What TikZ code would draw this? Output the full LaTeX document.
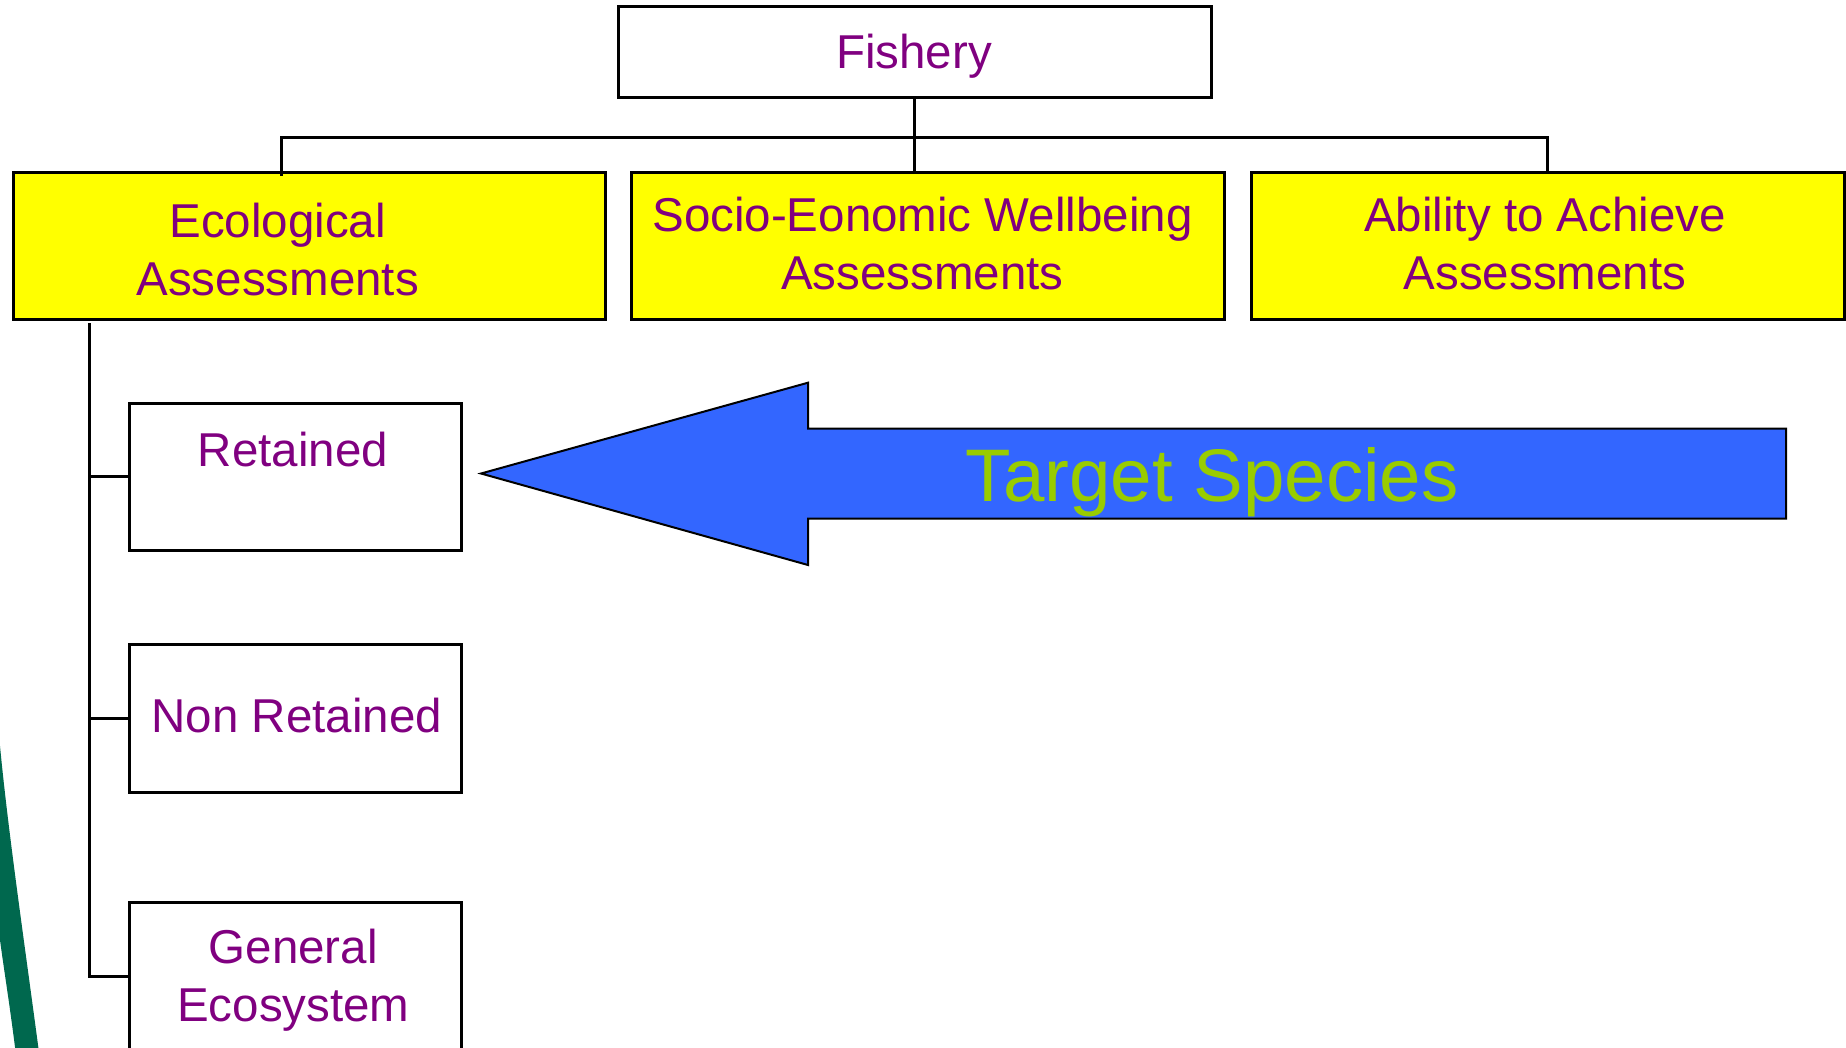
\documentclass[tikz,border=0pt]{standalone}
\usepackage{fontspec}
\setmainfont{Liberation Sans}
\definecolor{fishpurple}{HTML}{800080}
\definecolor{boxyellow}{HTML}{FFFF00}
\definecolor{arrowblue}{HTML}{3366FF}
\definecolor{targetgreen}{HTML}{99CC00}
\definecolor{deepgreen}{HTML}{00684E}
\newcommand\myfirst{\rule{0pt}{40pt}}
\begin{document}
\begin{tikzpicture}[x=1pt,y=-1pt,
  box/.style={draw=black, line width=3pt, inner sep=0pt},
  ybox/.style={box, fill=boxyellow},
  lbl/.style={text=fishpurple, font=\fontsize{47.5}{57.5}\selectfont, inner sep=0pt, align=center},
  conn/.style={draw=black, line width=3pt}]
\useasboundingbox (0,0) rectangle (1846,1047);
\clip (0,0) rectangle (1846,1047);

% decorative green band
\fill[deepgreen] (-5,746) -- (0,746) .. controls (8,830) and (24,940) .. (38.3,1047)
  -- (38.3,1052) -- (15,1052) -- (15,1047) .. controls (9,1000) and (4,970) .. (0,940) -- (-5,940) -- cycle;

% boxes
\node[box, minimum width=593pt, minimum height=91pt] (fishery) at (914.5,51.5) {};
\node[ybox, minimum width=592pt, minimum height=147pt] (eco) at (309,245.5) {};
\node[ybox, minimum width=592.5pt, minimum height=147pt] (socio) at (927.75,245.5) {};
\node[ybox, minimum width=592.6pt, minimum height=147pt] (ability) at (1547.7,245.5) {};
\node[box, minimum width=332pt, minimum height=146.5pt] (retained) at (295,476.75) {};
\node[box, minimum width=332pt, minimum height=147.5pt] (nonret) at (295,718.25) {};
\node[box, minimum width=332pt, minimum height=148pt] (general) at (295,976) {};

% labels
\node[lbl, anchor=base] (fisheryT) at (914,68.3) {Fishery};
\node[lbl, anchor=north] (ecoT) at (277.7,197.3) {\myfirst Ecological\\Assessments};
\node[lbl, anchor=north] (socioT) at (922.5,191.7) {\myfirst Socio-Eonomic Wellbeing\\Assessments};
\node[lbl, anchor=north] (abilityT) at (1545,191.7) {\myfirst Ability to Achieve\\Assessments};
\node[lbl, anchor=base] (retainedT) at (292.8,466) {Retained};
\node[lbl, anchor=base] (nonretT) at (296.7,732.6) {Non Retained};
\node[lbl, anchor=north] (generalT) at (293.3,923.5) {\myfirst General\\Ecosystem};

% connectors
\coordinate (bus) at (914.5,137);
\coordinate (ecotap) at (281,176);
\coordinate (trunktop) at (89.3,323);
\draw[conn] (fishery.south) -- (fishery.south |- socio.north);
\draw[conn] (ecotap) -- (ecotap |- bus) -- (bus -| ability.north) -- (ability.north);
\draw[conn] (trunktop) -- (trunktop |- general.west) -- (general.west);
\draw[conn] (trunktop |- retained.west) -- (retained.west);
\draw[conn] (trunktop |- nonret.west) -- (nonret.west);

% target species arrow
\filldraw[fill=arrowblue, draw=black, line width=2pt, line join=miter]
  (481,473.5) -- (808,382.7) -- (808,428.5) -- (1786,428.5) -- (1786,518.5)
  -- (808,518.5) -- (808,565) -- cycle;
\node[text=targetgreen, font=\fontsize{74.5}{80}\selectfont, inner sep=0pt, anchor=base] (target) at (1212.3,501.7) {Target Species};
\end{tikzpicture}
\end{document}
